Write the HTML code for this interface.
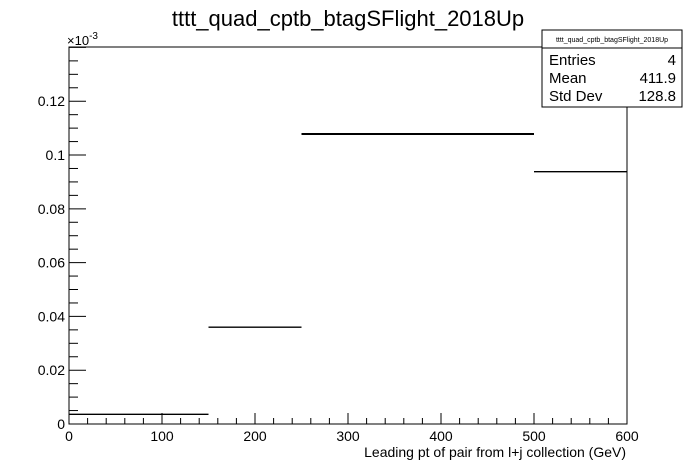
<!DOCTYPE html>
<html><head><meta charset="utf-8"><style>
body{margin:0;background:#fff;}
svg{display:block;font-family:"Liberation Sans",Arial,sans-serif;}
</style></head><body>
<svg id="c" width="696" height="472">
<rect width="696" height="472" fill="#fff"/>
<text x="348" y="26" font-size="22" text-anchor="middle">tttt_quad_cptb_btagSFlight_2018Up</text>
<rect x="69" y="47" width="558" height="377" fill="none" stroke="#000"/>
<g id="ax"></g>
<g id="bars"></g>
<text x="67" y="45" font-size="13">×10<tspan dy="-6" font-size="10">-3</tspan></text>
<text x="626" y="457" font-size="14" text-anchor="end">Leading pt of pair from l+j collection (GeV)</text>
<g>
<rect x="542" y="30" width="140" height="77" fill="#fff" stroke="#000"/>
<line x1="542" y1="48" x2="682" y2="48" stroke="#000"/>
<text x="612" y="42" font-size="7" text-anchor="middle">tttt_quad_cptb_btagSFlight_2018Up</text>
<text x="549" y="65" font-size="15">Entries</text><text x="676" y="65" font-size="15" text-anchor="end">4</text>
<text x="549" y="83" font-size="15">Mean</text><text x="676" y="83" font-size="15" text-anchor="end">411.9</text>
<text x="549" y="101" font-size="15">Std Dev</text><text x="676" y="101" font-size="15" text-anchor="end">128.8</text>
</g>
</svg>
<script>
const binEdges=[0,150,250,500,600];
const binValues=[0.0036,0.036,0.1078,0.0938];
const xTicks=[0,100,200,300,400,500,600];
const yTicks=[0,0.02,0.04,0.06,0.08,0.1,0.12];
const yTickLabels=["0","0.02","0.04","0.06","0.08","0.1","0.12"];
const X0=69,X1=627,Y0=424,Y1=47,XMAX=600,YMAX=0.14016;
const xs=v=>X0+(X1-X0)*v/XMAX;
const ys=v=>Y0-(Y0-Y1)*v/YMAX;
const NS="http://www.w3.org/2000/svg";
function mk(t,a,p){const e=document.createElementNS(NS,t);for(const k in a)e.setAttribute(k,a[k]);p.appendChild(e);return e;}
const ax=document.getElementById('ax');
for(let v=0;v<=XMAX+1e-9;v+=20){
  const major=Math.abs(v%100)<1e-9;
  const l=mk('line',{x1:xs(v),x2:xs(v),y1:Y0,y2:Y0-(major?11:6),stroke:'#000'},ax);
  
  
}
xTicks.forEach(v=>{
  const t=mk('text',{x:xs(v),y:Y0+17,'font-size':14,'text-anchor':'middle'},ax);t.textContent=v;
  
  
});
for(let v=0;v<=YMAX;v+=0.005){
  const major=Math.abs(v/0.02-Math.round(v/0.02))<1e-6;
  const l=mk('line',{x1:X0,x2:X0+(major?17:9),y1:ys(v),y2:ys(v),stroke:'#000'},ax);
  
  
}
yTicks.forEach((v,i)=>{
  const t=mk('text',{x:X0-4,y:ys(v)+5,'font-size':14,'text-anchor':'end'},ax);t.textContent=yTickLabels[i];
  
  
});
const bars=document.getElementById('bars');
binValues.forEach((v,i)=>{
  const l=mk('line',{x1:xs(binEdges[i]),x2:xs(binEdges[i+1]),y1:ys(v),y2:ys(v),stroke:'#000','stroke-width':i==2?2:1.3},bars);
  
  
});
</script>
</body></html>
